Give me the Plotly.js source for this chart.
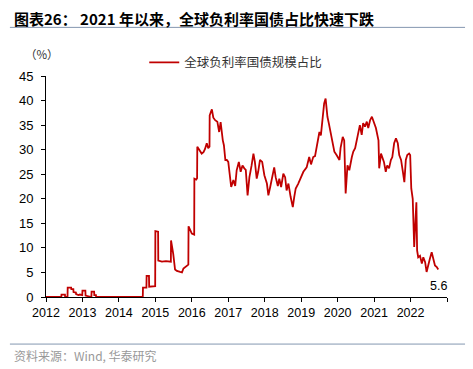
<!DOCTYPE html>
<html>
<head>
<meta charset="utf-8">
<script src="https://cdn.plot.ly/plotly-3.0.1.min.js"></script>
<style>
html,body{margin:0;padding:0;background:#fff;}
#chart{width:473px;height:369px;}
</style>
</head>
<body>
<div id="chart"></div>
<script>
// Time in decimal years, share of negative-yield government bonds (%)
var years = [
 2012.0, 2012.42, 2012.425, 2012.52, 2012.525, 2012.59, 2012.595, 2012.69, 2012.695, 2012.75, 2012.755, 2012.82, 2012.825, 2012.89, 2012.93, 2012.995, 2013.0, 2013.08, 2013.085, 2013.18, 2013.245, 2013.25, 2013.32, 2013.325, 2013.37, 2013.375,
 2014.655, 2014.66, 2014.755, 2014.76, 2014.825, 2014.83, 2014.995, 2015.0, 2015.075, 2015.08, 2015.18, 2015.29, 2015.4, 2015.425, 2015.43, 2015.49, 2015.54, 2015.59, 2015.68, 2015.73, 2015.77, 2015.84, 2015.905, 2015.91, 2016.0, 2016.065, 2016.07, 2016.12, 2016.145, 2016.15, 2016.21, 2016.27, 2016.32, 2016.36, 2016.41, 2016.45, 2016.485, 2016.49, 2016.55, 2016.59, 2016.64, 2016.7, 2016.75, 2016.79, 2016.85, 2016.88, 2016.92, 2016.96,
 2017.0, 2017.08, 2017.14, 2017.19, 2017.23, 2017.29, 2017.34, 2017.39, 2017.44, 2017.48, 2017.53, 2017.58, 2017.64, 2017.69, 2017.73, 2017.78, 2017.82, 2017.87, 2017.93, 2017.99,
 2018.06, 2018.1, 2018.15, 2018.19, 2018.26, 2018.3, 2018.36, 2018.4, 2018.45, 2018.51, 2018.56, 2018.6, 2018.65, 2018.71, 2018.77, 2018.81, 2018.85, 2018.92,
 2019.0, 2019.06, 2019.15, 2019.22, 2019.27, 2019.33, 2019.38, 2019.44, 2019.5, 2019.54, 2019.58, 2019.63, 2019.67, 2019.72, 2019.76, 2019.81, 2019.87, 2019.91, 2019.97,
 2020.05, 2020.08, 2020.14, 2020.18, 2020.22, 2020.27, 2020.32, 2020.39, 2020.43, 2020.48, 2020.52, 2020.57, 2020.61, 2020.66, 2020.7, 2020.75, 2020.8, 2020.84, 2020.89, 2020.94,
 2021.0, 2021.05, 2021.12, 2021.14, 2021.19, 2021.24, 2021.27, 2021.32, 2021.36, 2021.41, 2021.46, 2021.5, 2021.55, 2021.6, 2021.65, 2021.69, 2021.74, 2021.79, 2021.83, 2021.87, 2021.91, 2021.96, 2021.99,
 2022.02, 2022.06, 2022.1, 2022.13, 2022.16, 2022.18, 2022.21, 2022.26, 2022.31, 2022.35, 2022.4, 2022.44, 2022.49, 2022.53, 2022.58, 2022.63, 2022.67, 2022.72, 2022.76
];
var share = [
 0, 0, 0.5, 0.5, 0, 0, 1.9, 1.9, 1.6, 1.6, 1.0, 0.9, 0.6, 0.4, 0.5, 0.4, 1.3, 1.3, 0.3, 0.2, 0, 1.1, 1.1, 0.4, 0.4, 0,
 0, 1.9, 1.9, 4.3, 4.3, 2.1, 2.2, 13.4, 13.3, 7.4, 7.2, 7.3, 7.1, 7.2, 11.5, 8.8, 5.6, 5.3, 5.1, 5.0, 5.8, 6.2, 6.6, 14.4, 12.9, 12.7, 24.1, 23.9, 24.2, 30.6, 30.0, 29.2, 29.5, 30.1, 31.3, 30.3, 30.6, 37.0, 38.2, 36.5, 36.0, 35.7, 33.6, 35.6, 31.9, 30.9, 27.9, 27.9,
 27.5, 22.4, 23.8, 22.6, 25.8, 27.5, 25.5, 26.8, 26.2, 25.9, 20.7, 24.4, 26.8, 29.2, 27.5, 24.1, 25.5, 27.9, 27.5, 24.8,
 23.1, 20.7, 22.4, 23.8, 26.4, 24.4, 22.6, 24.1, 22.4, 25.1, 24.4, 21.7, 23.1, 20.4, 18.3, 20.4, 22.1, 23.1,
 24.3, 25.5, 26.4, 28.5, 27.0, 28.5, 28.7, 30.9, 33.6, 32.9, 35.3, 39.4, 40.4, 36.7, 35.3, 33.3, 31.3, 29.6, 28.9,
 27.9, 30.3, 32.6, 31.9, 21.1, 26.8, 25.8, 28.5, 29.6, 30.3, 31.6, 33.3, 35.0, 33.0, 35.4, 34.7, 35.7, 34.4, 36.0, 36.7,
 35.4, 34.4, 31.9, 26.2, 29.2, 28.2, 27.5, 25.5, 26.8, 26.2, 27.9, 28.5, 31.3, 32.3, 31.3, 28.9, 27.9, 25.5, 23.4, 27.9, 28.9, 29.2, 28.9,
 22.1, 20.0, 10.2, 13.6, 19.3, 9.5, 8.1, 8.4, 6.8, 8.1, 7.1, 5.1, 6.8, 7.8, 9.1, 7.5, 6.4, 6.1, 5.6
];
var tickYears = [2012, 2013, 2014, 2015, 2016, 2017, 2018, 2019, 2020, 2021, 2022, 2023];
var tickLabels = ['2012', '2013', '2014', '2015', '2016', '2017', '2018', '2019', '2020', '2021', '2022', ''];
var seriesName = '全球负利率国债规模占比';
var lastLabel = '5.6';

var latin = '"Liberation Sans", Arial, sans-serif';
var cjk = '"Noto Sans CJK SC", sans-serif';

var trace = {
  x: years, y: share, type: 'scatter', mode: 'lines', name: seriesName,
  line: {color: '#C00000', width: 1.8}
};

var layout = {
  width: 473, height: 369,
  margin: {l: 46, r: 26, t: 76, b: 72},
  paper_bgcolor: '#fff', plot_bgcolor: '#fff',
  font: {family: latin, size: 12, color: '#000'},
  showlegend: true,
  legend: {x: 0.245, xanchor: 'left', y: 1.06, yanchor: 'middle', orientation: 'h',
           bgcolor: 'rgba(0,0,0,0)', font: {size: 12.5, color: '#333', family: cjk}},
  xaxis: {
    range: [2012, 2023], tickmode: 'array', tickvals: tickYears, ticktext: tickLabels,
    showline: true, linecolor: '#000', linewidth: 1, ticks: 'outside', ticklen: 4, tickcolor: '#000',
    showgrid: false, zeroline: false, tickfont: {size: 12.5}
  },
  yaxis: {
    range: [0, 45], dtick: 5, showline: true, linecolor: '#000', linewidth: 1,
    ticks: 'outside', ticklen: 4, tickcolor: '#000', showgrid: false, zeroline: false,
    tickfont: {size: 13}, ticklabelstandoff: 5
  },
  shapes: [
    {type: 'line', xref: 'paper', yref: 'paper', x0: -0.09, x1: 1.045, y0: 1.22, y1: 1.22, line: {color: '#8497b0', width: 1}},
    {type: 'line', xref: 'paper', yref: 'paper', x0: -0.09, x1: 1.045, y0: -0.213, y1: -0.213, line: {color: '#8497b0', width: 1}}
  ],
  annotations: [
    {xref: 'paper', yref: 'paper', x: -0.085, y: 1.262, xanchor: 'left', yanchor: 'middle', showarrow: false,
     text: '<b>图表26： 2021 年以来，全球负利率国债占比快速下跌</b>', font: {size: 15, family: cjk, color: '#000'}},
    {xref: 'paper', yref: 'paper', x: -0.01, y: 1.1, xanchor: 'center', yanchor: 'middle', showarrow: false,
     text: '（%）', font: {size: 11.5, color: '#333', family: cjk}},
    {xref: 'x', yref: 'y', x: 2022.78, y: 2.3, xanchor: 'center', yanchor: 'middle', showarrow: false,
     text: lastLabel, font: {size: 12.5, color: '#000'}},
    {xref: 'paper', yref: 'paper', x: -0.085, y: -0.265, xanchor: 'left', yanchor: 'middle', showarrow: false,
     text: '资料来源：Wind, 华泰研究', font: {size: 12, color: '#999', family: cjk}}
  ]
};

Plotly.newPlot('chart', [trace], layout, {displayModeBar: false, staticPlot: true});
</script>
</body>
</html>
